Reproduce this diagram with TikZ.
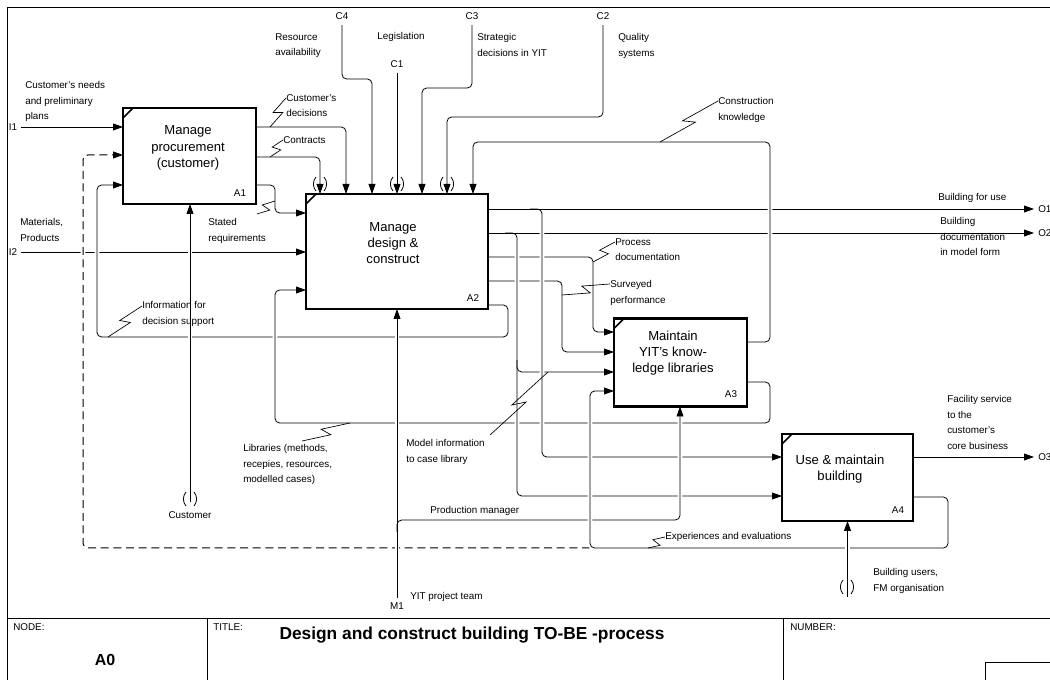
\documentclass[tikz,border=0pt]{standalone}
\usepackage{fontspec}
\setmainfont{Liberation Sans}
\usetikzlibrary{arrows.meta,calc}

% zigzag leader from a point on an arrow to its label
\newcommand{\squig}[2]{\draw[squiggle] (#1) -- ($(#1)!0.57!(#2)!3.2pt!-90:(#2)$) -- ($(#1)!0.43!(#2)!3.2pt!90:(#2)$) -- (#2);}

\tikzset{
  boxshape/.style={inner sep=0pt,outer sep=0pt},
  boxline/.style={line width=1.7pt},
  line/.style={line width=0.6pt,rounded corners=3.5pt},
  flow/.style={line,-{Triangle[length=7.5pt,width=5.2pt]}},
  gap/.style={preaction={draw=white,line width=3.5pt,solid,-}},
  squiggle/.style={line width=0.5pt},
  lbl/.style={font=\fontsize{7.4}{11.8}\selectfont,inner sep=0pt,align=left,anchor=north west},
  icom/.style={font=\fontsize{7.4}{9}\selectfont,inner sep=0pt},
  boxtxt/.style={font=\fontsize{9.8}{12.2}\selectfont,inner sep=0pt,align=center},
  tunnel/.pic={\draw[line width=0.6pt] (-4,-7) .. controls (-7.5,-3) and (-7.5,3) .. (-4,7)
                (4,-7) .. controls (7.5,-3) and (7.5,3) .. (4,7);}
}

\begin{document}
\begin{tikzpicture}[x=0.75pt,y=-0.75pt]
\useasboundingbox (0,0) rectangle (1050,680);

% frame and title block
\draw[line width=0.7pt] (7,680) -- (7,7) -- (1050,7);
\draw[line width=0.7pt] (7,618) -- (1050,618) (207,618) -- (207,680) (783,618) -- (783,680);
\draw[line width=0.7pt] (985,680) -- (985,662) -- (1050,662);
\node[icom,anchor=north west] (nodehd) at (13,623) {NODE:};
\node[font=\bfseries\fontsize{12}{14}\selectfont] (nodeno) at (105,660) {A0};
\node[icom,anchor=north west] (titlehd) at (213,623) {TITLE:};
\node[font=\bfseries\fontsize{13}{15}\selectfont] (title) at (472,635) {Design and construct building TO-BE -process};
\node[icom,anchor=north west] (numhd) at (790,623) {NUMBER:};

% activity boxes (outlines drawn last)
\node[boxshape,minimum width=99.75pt,minimum height=72pt] (a1) at (189.5,156) {};
\node[boxshape,minimum width=136.5pt,minimum height=86.25pt] (a2) at (397,251.5) {};
\node[boxshape,minimum width=99.75pt,minimum height=66pt] (a3) at (680.5,362.5) {};
\node[boxshape,minimum width=98.25pt,minimum height=65.25pt] (a4) at (847.5,477.5) {};
\node[boxtxt] (a1t) at (188,148) {Manage\\procurement\\(customer)};
\node[boxtxt] (a2t) at (393,243) {Manage\\design \&\\construct};
\node[boxtxt] (a3t) at (673,353) {Maintain\\YIT's know-\\ledge libraries};
\node[boxtxt] (a4t) at (840,469) {Use \& maintain\\building};
\node[icom] (a1n) at (240,193) {A1};
\node[icom] (a2n) at (473,298) {A2};
\node[icom] (a3n) at (731,394) {A3};
\node[icom] (a4n) at (898,510) {A4};

% boundary arrow codes
\node[icom] (i1) at (13,127) {I1};
\node[icom] (i2) at (13,252) {I2};
\node[icom] (c4) at (342,16) {C4};
\node[icom] (c1) at (397,64) {C1};
\node[icom] (c3) at (472,16) {C3};
\node[icom] (c2) at (603,16) {C2};
\node[icom] (m1) at (397,606) {M1};
\node[icom,anchor=west] (o1) at (1038,209) {O1};
\node[icom,anchor=west] (o2) at (1038,233) {O2};
\node[icom,anchor=west] (o3) at (1038,457) {O3};
\node[icom] (cust) at (190,515) {Customer};

% inputs and controls from outside
\draw[flow] ([xshift=3pt]i1.east) -- (i1 -| a1.west);
\draw[flow] ([yshift=-4pt]c4.south) -- (342,79) -- (372,79) -- (372,0 |- a2.north);
\draw[flow] ([yshift=-4pt]c1.south) -- (c1 |- a2.north);
\draw[flow] ([yshift=-4pt]c3.south) -- (472,88) -- (422,88) -- (422,0 |- a2.north);
\draw[flow] ([yshift=-4pt]c2.south) -- (603,117) -- (447,117) -- (447,0 |- a2.north);

% A1 outputs
\draw[flow] (a1.east |- 0,127) -- (346,127) -- (346,0 |- a2.north);
\draw[flow] (a1.east |- 0,157) -- (320,157) -- (320,0 |- a2.north);
\draw[flow] (a1.east |- 0,185) -- (275,185) -- (275,213) -- (a2.west |- 0,213);

\draw[flow] ([xshift=3pt]i2.east) -- (i2 -| a2.west);

% feedback loops
\draw[flow,gap] (a2.east |- 0,305) -- (508,305) -- (508,337) -- (97,337) -- (97,185) -- (a1.west |- 0,185);
\draw[flow,gap,line width=0.75pt,dash pattern=on 6pt off 3.5pt] (590,548) -- (83,548) -- (83,155) -- (a1.west |- 0,155);

% A2 outputs to A3
\draw[flow] (a2.east |- 0,257) -- (593,257) -- (593,332) -- (a3.west |- 0,332);
\draw[flow] (a2.east |- 0,281) -- (562,281) -- (562,352) -- (a3.west |- 0,352);
\draw[flow,gap] (a3.east |- 0,382) -- (770,382) -- (770,423) -- (275,423) -- (275,290) -- (a2.west |- 0,290);

% model and building
\draw[line] (505,233) -- (517,233) -- (517,245);
\draw[flow,gap] (517,245) -- (517,496) -- (a4.west |- 0,496);
\draw[flow] (517,360) -- (517,372) -- (a3.west |- 0,372);
\draw[flow] (a2.east |- 0,233) -- ([xshift=-3pt]o2.west);
\draw[line] (530,209) -- (542,209) -- (542,221);
\draw[flow,gap] (542,221) -- (542,457) -- (a4.west |- 0,457);
\draw[flow] (a2.east |- 0,209) -- ([xshift=-3pt]o1.west);

% A3 output to A2
\draw[flow,gap] (a3.east |- 0,342) -- (770,342) -- (770,142) -- (473,142) -- (473,0 |- a2.north);

% mechanisms
\draw[flow,gap] (190,502) -- (190,0 |- a1.south);
\draw[flow,gap] ([yshift=3pt]m1.north) -- (m1 |- a2.south);
\draw[line] (397,532) -- (397,520) -- (420,520);
\draw[flow,gap] (420,520) -- (680,520) -- (680,0 |- a3.south);

% A4 outputs
\draw[flow,gap] (a4.east |- 0,497) -- (948,497) -- (948,548) -- (590,548) -- (590,391) -- (a3.west |- 0,391);
\draw[flow,gap] (a4.south |- 0,597) -- (a4.south);
\draw[flow] (a4.east |- 0,457) -- ([xshift=-3pt]o3.west);

% box outlines
\foreach \b in {a1,a2,a3,a4} {
  \draw[boxline] (\b.north west) rectangle (\b.south east);
  \draw[line width=1.2pt] ([yshift=-7.5pt]\b.north west) -- ([xshift=7.5pt]\b.north west);
}
\pic at (320,184) {tunnel};
\pic at (397,184) {tunnel};
\pic at (447,184) {tunnel};
\pic at (190,499) {tunnel};
\pic at (847,587) {tunnel};

% arrow labels
\node[lbl] (needs) at (25,81) {Customer's needs\\and preliminary\\plans};
\node[lbl] (resav) at (275,33) {Resource\\availability};
\node[lbl,anchor=center] (legis) at (401,37) {Legislation};
\node[lbl] (strat) at (477,33) {Strategic\\decisions in YIT};
\node[lbl] (qual) at (618,33) {Quality\\systems};
\node[lbl] (cdec) at (286,94) {Customer's\\decisions};
\node[lbl] (contr) at (283,136) {Contracts};
\node[lbl] (cknow) at (718,97) {Construction\\knowledge};
\node[lbl] (streq) at (208,218) {Stated\\requirements};
\node[lbl] (matpr) at (20,218) {Materials,\\Products};
\node[lbl] (bfuse) at (938,193) {Building for use};
\node[lbl] (bdoc) at (940,217) {Building\\documentation\\in model form};
\node[lbl] (pdoc) at (615,238) {Process\\documentation};
\node[lbl] (sperf) at (610,280) {Surveyed\\performance};
\node[lbl] (idec) at (142,301) {Information for\\decision support};
\node[lbl] (libs) at (243,444) {Libraries (methods,\\recepies, resources,\\modelled cases)};
\node[lbl] (minfo) at (406,439) {Model information\\to case library};
\node[lbl] (facil) at (947,395) {Facility service\\to the\\customer's\\core business};
\node[lbl] (prodm) at (430,506) {Production manager};
\node[lbl] (yitpt) at (410,592) {YIT project team};
\node[lbl] (expev) at (665,532) {Experiences and evaluations};
\node[lbl] (busers) at (873,568) {Building users,\\FM organisation};

% leaders
\coordinate (q1) at (270,127);  \coordinate (q1e) at (286,98);
\coordinate (q2) at (270,157);  \coordinate (q2e) at (283,140);
\coordinate (q3) at (660,142);  \coordinate (q3e) at (718,101);
\coordinate (q4) at (275,201);  \coordinate (q4e) at (257,214);
\coordinate (q5) at (108,337);  \coordinate (q5e) at (142,306);
\coordinate (q6) at (350,423);  \coordinate (q6e) at (302,441);
\coordinate (q7) at (548,372);  \coordinate (q7e) at (490,435);
\coordinate (q8) at (593,262);  \coordinate (q8e) at (615,242);
\coordinate (q9) at (562,295);  \coordinate (q9e) at (610,284);
\coordinate (q10) at (648,548); \coordinate (q10e) at (665,537);
\foreach \q in {q1,q2,q3,q4,q5,q6,q7,q8,q9,q10}
  {\squig{\q}{\q e}}
\end{tikzpicture}
\end{document}
